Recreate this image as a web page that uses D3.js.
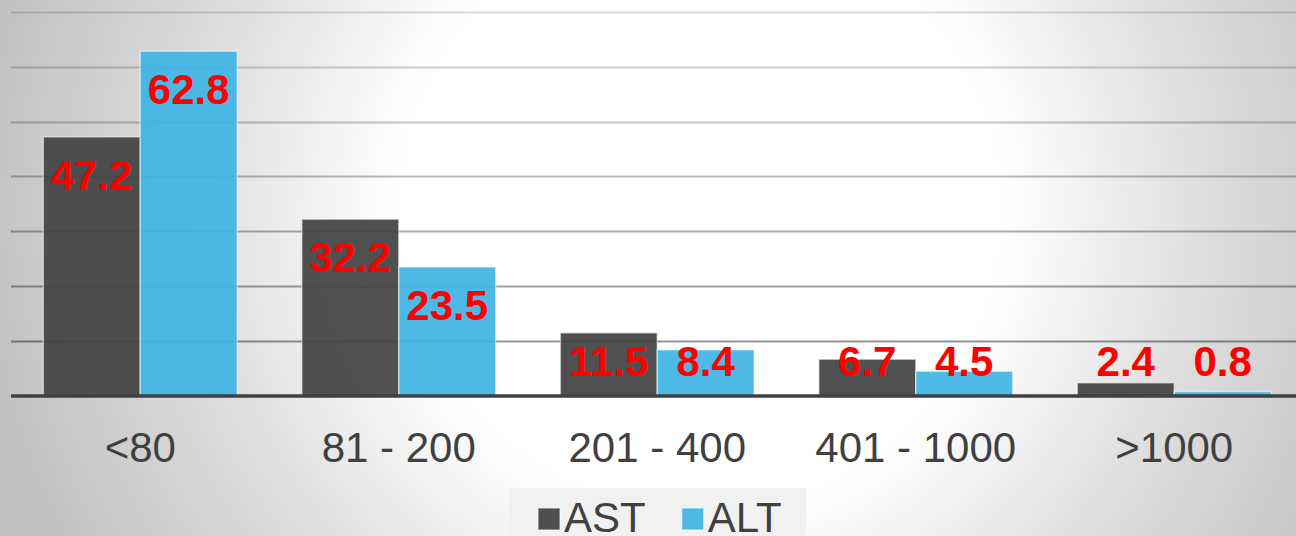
<!DOCTYPE html>
<html>
<head>
<meta charset="utf-8">
<script src="https://cdn.jsdelivr.net/npm/d3@7"></script>
<style>
  html, body { margin: 0; padding: 0; background: #ffffff; }
  svg { display: block; }
</style>
</head>
<body>
<svg id="chart" width="1296" height="536"></svg>
<script>
// Enzyme level ranges and share of cases (%) for each enzyme
const categories = ["<80", "81 - 200", "201 - 400", "401 - 1000", ">1000"];
const seriesNames = ["AST", "ALT"];
const astValues = [47.2, 32.2, 11.5, 6.7, 2.4];
const altValues = [62.8, 23.5, 8.4, 4.5, 0.8];
const gridTicks = [10, 20, 30, 40, 50, 60, 70];

const seriesColors = { AST: "#434343", ALT: "#3eb4e5" };
const FONT = "'Liberation Sans', Arial, Helvetica, sans-serif";

const W = 1296, H = 536;
const svg = d3.select("#chart");

// Soft radial backdrop
const defs = svg.append("defs");
const bg = defs.append("radialGradient")
  .attr("id", "bgGrad")
  .attr("gradientUnits", "userSpaceOnUse")
  .attr("cx", 700).attr("cy", 210).attr("r", 720);
bg.append("stop").attr("offset", 0).attr("stop-color", "#ffffff");
bg.append("stop").attr("offset", 0.42).attr("stop-color", "#ffffff");
bg.append("stop").attr("offset", 0.7).attr("stop-color", "#dedede");
bg.append("stop").attr("offset", 1).attr("stop-color", "#c2c2c2");
svg.append("rect").attr("width", W).attr("height", H).attr("fill", "url(#bgGrad)");

// Scales
const x0 = d3.scaleBand()
  .domain(categories)
  .range([11, 1303.5])
  .paddingInner(0.25)
  .paddingOuter(0.125);
const x1 = d3.scaleBand()
  .domain(seriesNames)
  .range([0, x0.bandwidth()]);
const y = d3.scaleLinear().domain([0, 70]).range([396, 11.7]);

// Horizontal gridlines, fading toward the top
const gridOpacity = d3.scaleLinear().domain([10, 70]).range([0.42, 0.14]);
svg.append("g")
  .selectAll("line")
  .data(gridTicks)
  .join("line")
  .attr("x1", 11).attr("x2", W)
  .attr("y1", d => Math.round(y(d)) + 0.5)
  .attr("y2", d => Math.round(y(d)) + 0.5)
  .attr("stroke", "#000")
  .attr("stroke-opacity", d => gridOpacity(d))
  .attr("stroke-width", 2);

// Bars
const rows = categories.map((c, i) => ({
  category: c,
  values: [
    { key: "AST", value: astValues[i] },
    { key: "ALT", value: altValues[i] }
  ]
}));

const groups = svg.append("g")
  .selectAll("g")
  .data(rows)
  .join("g")
  .attr("transform", d => `translate(${x0(d.category)},0)`);

groups.selectAll("rect")
  .data(d => d.values)
  .join("rect")
  .attr("x", d => x1(d.key))
  .attr("y", d => y(d.value))
  .attr("width", x1.bandwidth())
  .attr("height", d => y(0) - y(d.value))
  .attr("fill", d => seriesColors[d.key])
  .attr("fill-opacity", 0.93)
  .attr("stroke", "#ffffff")
  .attr("stroke-opacity", 0.5)
  .attr("stroke-width", 1.5);

// Baseline axis
const xAxis = d3.axisBottom(x0).tickSize(0).tickPadding(0);
const axisG = svg.append("g")
  .attr("transform", `translate(0,${y(0)})`)
  .call(xAxis);
axisG.select(".domain")
  .attr("d", `M11,0H${W}`)
  .attr("stroke", "#404040")
  .attr("stroke-width", 3.5);
axisG.selectAll(".tick text")
  .attr("y", 66)
  .attr("dy", 0)
  .attr("fill", "#404040")
  .style("font-family", FONT)
  .style("font-size", "42px");

// Value labels, placed inside the top of each bar
const labelCap = 361;
groups.selectAll("text.val")
  .data(d => d.values)
  .join("text")
  .attr("class", "val")
  .attr("x", d => x1(d.key) + x1.bandwidth() / 2)
  .attr("y", d => Math.min(y(d.value) + 38, labelCap) + 15)
  .attr("text-anchor", "middle")
  .attr("fill", "#ff0000")
  .style("font-family", FONT)
  .style("font-weight", "bold")
  .style("font-size", "42px")
  .text(d => d.value.toFixed(1));

// Legend
const legend = svg.append("g");
legend.append("rect")
  .attr("x", 509).attr("y", 488)
  .attr("width", 297).attr("height", 60)
  .attr("fill", "#f1f1f1");

let lx = 538;
seriesNames.forEach(name => {
  legend.append("rect")
    .attr("x", lx).attr("y", 508)
    .attr("width", 22).attr("height", 22)
    .attr("fill", seriesColors[name])
    .attr("fill-opacity", 0.93)
    .attr("stroke", "#ffffff")
    .attr("stroke-opacity", 0.5)
    .attr("stroke-width", 1.5);
  const t = legend.append("text")
    .attr("x", lx + 26).attr("y", 532)
    .attr("fill", "#404040")
    .style("font-family", FONT)
    .style("font-size", "42px")
    .text(name);
  lx = lx + 26 + t.node().getComputedTextLength() + 36;
});
</script>
</body>
</html>
